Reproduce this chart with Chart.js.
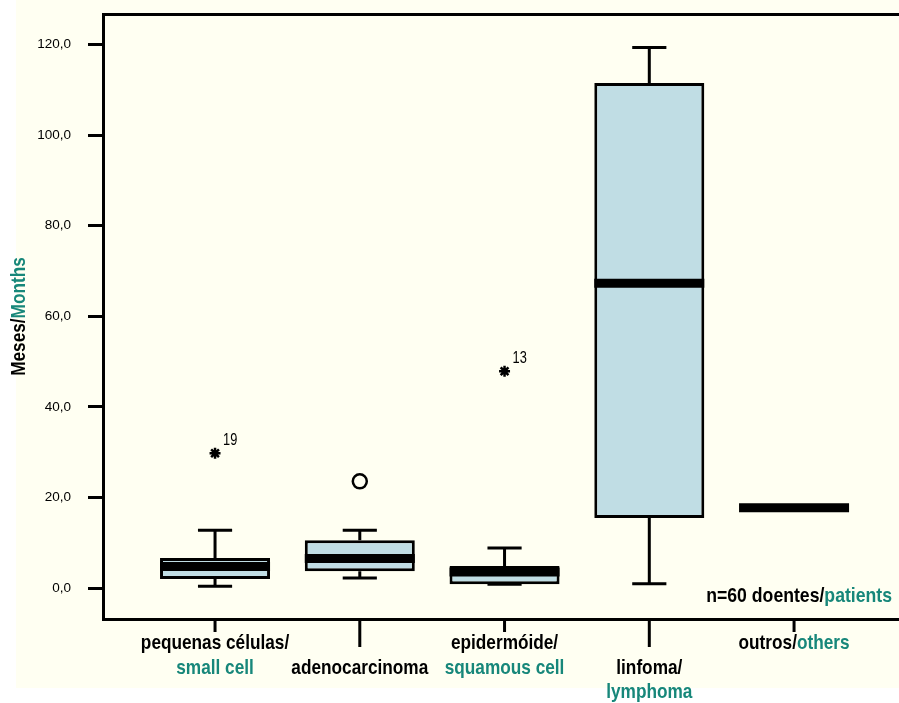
<!DOCTYPE html>
<html>
<head>
<meta charset="utf-8">
<script src="https://cdn.jsdelivr.net/npm/chart.js@4.4.1/dist/chart.umd.min.js"></script>
<style>
  html, body { margin: 0; padding: 0; background: #fff; }
  #wrap { width: 899px; height: 703px; position: relative; }
</style>
</head>
<body>
<div id="wrap"><canvas id="chart" width="899" height="703"></canvas></div>
<script>
// categories: black part / teal part of each label
const catBlack = ['pequenas células/', 'adenocarcinoma', 'epidermóide/', 'linfoma/', 'outros/']
const catTeal = ['small cell', '', 'squamous cell', 'lymphoma', 'others']

// box plot values (months)
const q1 = [2.05, 3.75, 0.9, 15.5, null]
const q3 = [6.7, 10.6, 4.9, 111.5, null]
const medians = [4.8, 6.55, 3.6, 67.3, 17.8]
const whiskerLow = [0.45, 2.3, 0.9, 1.0, null]
const whiskerHigh = [12.8, 12.8, 8.9, 119.3, null]

// outliers
const extremeCat = [0, 2]
const extremeVal = [29.8, 47.9]
const extremeLabel = ['19', '13']
const mildCat = [1]
const mildVal = [23.6]

const yTicks = [0, 20, 40, 60, 80, 100, 120]
const yTickLabels = ['0,0', '20,0', '40,0', '60,0', '80,0', '100,0', '120,0']

const TEAL = '#17877a'
const FONT = "'Liberation Sans', Arial, sans-serif"
const NARROW = 0.82
const BOX_HALF = 0.38
const CAP_HALF = 0.118

let boxData = []
let medianData = []
let whiskerData = []
let capData = []
for (let i = 0; i < catBlack.length; i++) {
    if (q1[i] !== null) {
        boxData.push({x: i, y: [q1[i], q3[i]]})
        whiskerData.push({x: i, y: q3[i]}, {x: i, y: whiskerHigh[i]}, {x: i, y: null})
        whiskerData.push({x: i, y: q1[i]}, {x: i, y: whiskerLow[i]}, {x: i, y: null})
        capData.push({x: i - CAP_HALF, y: whiskerHigh[i]}, {x: i + CAP_HALF, y: whiskerHigh[i]}, {x: i, y: null})
        capData.push({x: i - CAP_HALF, y: whiskerLow[i]}, {x: i + CAP_HALF, y: whiskerLow[i]}, {x: i, y: null})
    }
    medianData.push({x: i - BOX_HALF, y: medians[i]}, {x: i + BOX_HALF, y: medians[i]}, {x: i, y: null})
}
const extremeData = extremeCat.map((c, i) => ({x: c, y: extremeVal[i]}))
const mildData = mildCat.map((c, i) => ({x: c, y: mildVal[i]}))

// draws coloured pieces of one line, squeezed horizontally like the condensed original
function drawParts(ctx, parts, x, y, align, sx) {
    ctx.save()
    ctx.translate(x, y)
    ctx.scale(sx, 1)
    let total = 0
    parts.forEach(p => total += ctx.measureText(p[0]).width)
    let start = align === 'center' ? -total / 2 : (align === 'right' ? -total : 0)
    ctx.textAlign = 'left'
    parts.forEach(p => {
        ctx.fillStyle = p[1]
        ctx.fillText(p[0], start, 0)
        start += ctx.measureText(p[0]).width
    })
    ctx.restore()
}

const noPad = s => {
    s.paddingTop = 0
    s.paddingBottom = 0
    s.paddingLeft = 0
    s.paddingRight = 0
}

const paper = {
    id: 'paper',
    beforeDraw(chart) {
        const ctx = chart.ctx
        ctx.save()
        ctx.fillStyle = '#fffff2'
        ctx.fillRect(16, 0, chart.width - 16, 688)
        ctx.restore()
    },
    afterDraw(chart) {
        const ctx = chart.ctx
        const xs = chart.scales.x
        const ys = chart.scales.y
        const area = chart.chartArea
        ctx.save()

        // category ticks + labels
        ctx.strokeStyle = '#000'
        ctx.lineWidth = 3
        ctx.font = 'bold 21px ' + FONT
        ctx.textBaseline = 'alphabetic'
        const rows = [area.bottom + 30, area.bottom + 55, area.bottom + 79]
        for (let i = 0; i < catBlack.length; i++) {
            const px = xs.getPixelForValue(i)
            const long = i % 2 === 1
            ctx.beginPath()
            ctx.moveTo(px, area.bottom)
            ctx.lineTo(px, area.bottom + (long ? 28 : 13))
            ctx.stroke()
            const r = long ? 1 : 0
            if (i === catBlack.length - 1) {
                drawParts(ctx, [[catBlack[i], '#000'], [catTeal[i], TEAL]], px, rows[r], 'center', NARROW)
            } else {
                drawParts(ctx, [[catBlack[i], '#000']], px, rows[r], 'center', NARROW)
                if (catTeal[i]) drawParts(ctx, [[catTeal[i], TEAL]], px, rows[r + 1], 'center', NARROW)
            }
        }

        // n note
        ctx.font = 'bold 21px ' + FONT
        drawParts(ctx, [['n=60 doentes/', '#000'], ['patients', TEAL]], area.right - 7, 602, 'right', 0.84)

        // outlier case numbers
        ctx.font = '16px ' + FONT
        extremeCat.forEach((c, i) => {
            const px = xs.getPixelForValue(c)
            const py = ys.getPixelForValue(extremeVal[i])
            drawParts(ctx, [[extremeLabel[i], '#000']], px + 8, py - 8, 'left', 0.8)
        })

        // y title
        ctx.translate(19, (area.top + area.bottom) / 2)
        ctx.rotate(-Math.PI / 2)
        ctx.font = 'bold 21px ' + FONT
        ctx.textBaseline = 'middle'
        drawParts(ctx, [['Meses/', '#000'], ['Months', TEAL]], 0, 0, 'center', NARROW)
        ctx.restore()
    }
}

const ctx = document.getElementById('chart')
const chart = new Chart(ctx, {
    type: 'bar',
    data: {
        datasets: [
            {
                type: 'line',
                data: medianData,
                borderColor: '#000',
                borderWidth: 9,
                borderCapStyle: 'butt',
                pointRadius: 0,
                spanGaps: false,
                order: 1
            },
            {
                type: 'bar',
                data: boxData,
                backgroundColor: '#c0dde4',
                borderColor: '#000',
                borderWidth: 3,
                borderSkipped: false,
                categoryPercentage: 1,
                barPercentage: 0.76,
                order: 2
            },
            {
                type: 'line',
                data: whiskerData,
                borderColor: '#000',
                borderWidth: 3,
                pointRadius: 0,
                spanGaps: false,
                order: 3
            },
            {
                type: 'line',
                data: capData,
                borderColor: '#000',
                borderWidth: 3,
                borderCapStyle: 'butt',
                pointRadius: 0,
                spanGaps: false,
                order: 3
            },
            {
                type: 'line',
                data: extremeData,
                showLine: false,
                pointStyle: 'star',
                pointRadius: 5.5,
                pointBorderWidth: 2.5,
                pointBorderColor: '#000',
                order: 0
            },
            {
                type: 'line',
                data: mildData,
                showLine: false,
                pointStyle: 'circle',
                pointRadius: 7,
                pointBorderWidth: 2.5,
                pointBorderColor: '#000',
                pointBackgroundColor: 'rgba(0,0,0,0)',
                order: 0
            }
        ]
    },
    options: {
        responsive: false,
        animation: false,
        layout: {padding: 0, autoPadding: false},
        plugins: {
            legend: {display: false},
            tooltip: {enabled: false}
        },
        scales: {
            x: {
                type: 'linear',
                offset: false,
                min: -0.774,
                max: 4.725,
                afterBuildTicks: s => { s.ticks = [0, 1, 2, 3, 4].map(v => ({value: v})) },
                afterFit: s => { s.height = 84; noPad(s) },
                ticks: {display: false},
                grid: {display: false, offset: false},
                border: {display: true, color: '#000', width: 3}
            },
            xTop: {
                type: 'linear',
                position: 'top',
                min: 0,
                max: 1,
                afterFit: s => { s.height = 14; noPad(s) },
                ticks: {display: false},
                grid: {display: false},
                border: {display: true, color: '#000', width: 3}
            },
            y: {
                type: 'linear',
                min: -6.77,
                max: 126.7,
                afterBuildTicks: s => { s.ticks = yTicks.map(v => ({value: v})) },
                afterFit: s => { s.width = 103; noPad(s) },
                ticks: {
                    callback: (v, i) => yTickLabels[i],
                    color: '#000',
                    font: {family: FONT, size: 13.5},
                    padding: 17
                },
                grid: {
                    drawOnChartArea: false,
                    drawTicks: true,
                    tickLength: 15,
                    tickWidth: 3,
                    tickColor: '#000'
                },
                border: {display: true, color: '#000', width: 3}
            }
        }
    },
    plugins: [paper]
});
</script>
</body>
</html>
